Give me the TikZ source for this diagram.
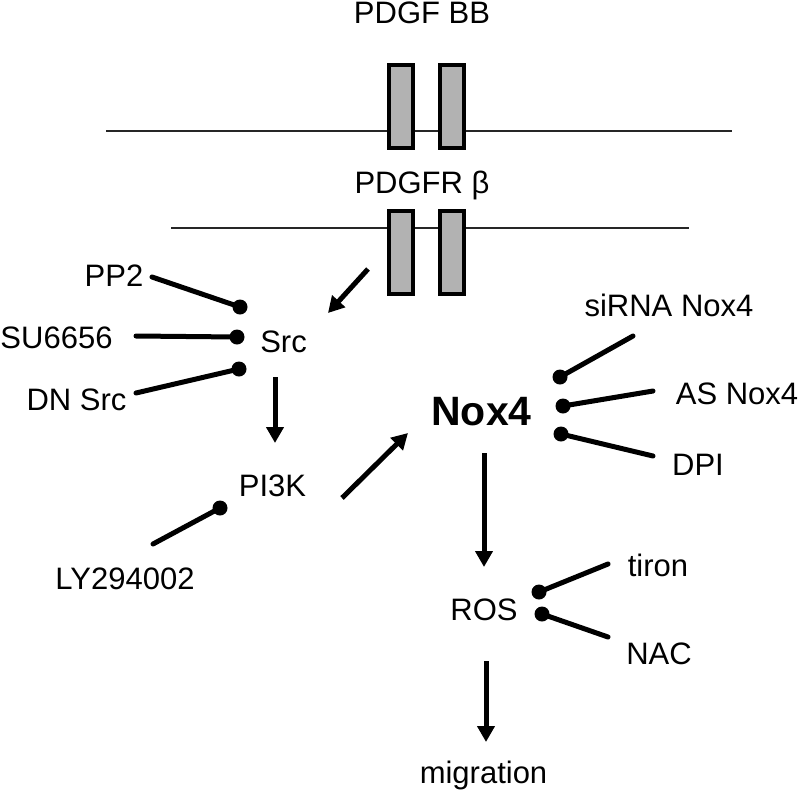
\documentclass[tikz,border=0pt]{standalone}
\usepackage{fontspec}
\setmainfont{Liberation Sans}
\usetikzlibrary{arrows.meta}
\tikzset{
  lbl/.style={anchor=base,inner sep=0pt,font=\fontsize{31}{37}\selectfont},
  boldlbl/.style={anchor=base,inner sep=0pt,font=\fontsize{41}{48}\selectfont\bfseries},
  membrane/.style={line width=2pt,black!85},
  tmbox/.style={draw=black,line width=4pt,fill=black!30},
  act/.style={line width=5pt,-{Triangle[width=17pt,length=16pt]}},
  inhib/.style={line width=5pt,line cap=round},
  dotend/.style={fill=black}
}
\begin{document}
\begin{tikzpicture}[x=1pt,y=-1pt]
\useasboundingbox (0,0) rectangle (800,798);
% membranes
\coordinate (m1a) at (106,131); \coordinate (m1b) at (732,131);
\coordinate (m2a) at (171,228); \coordinate (m2b) at (689,228);
\draw[membrane] (m1a) -- (m1b);
\draw[membrane] (m2a) -- (m2b);
% receptor boxes
\draw[tmbox] (389,65) rectangle (413,148);
\draw[tmbox] (440,65) rectangle (464,148);
\draw[tmbox] (389,211) rectangle (413,294);
\draw[tmbox] (440,211) rectangle (464,294);
% labels
\node[lbl] (pdgf) at (422,23) {PDGF BB};
\node[lbl] (pdgfr) at (422,193) {PDGFR β};
\node[lbl] (pp2) at (114,286) {PP2};
\node[lbl] (su) at (56.5,348) {SU6656};
\node[lbl] (dn) at (76.5,410) {DN Src};
\node[lbl] (src) at (283.5,352) {Src};
\node[lbl] (pi3k) at (272.5,496) {PI3K};
\node[lbl] (ly) at (125,589) {LY294002};
\node[boldlbl] (nox) at (481.5,425) {Nox4};
\node[lbl] (sirna) at (669,316) {siRNA Nox4};
\node[lbl] (as) at (737,404) {AS Nox4};
\node[lbl] (dpi) at (698,475) {DPI};
\node[lbl] (ros) at (484,620) {ROS};
\node[lbl] (tiron) at (658,576) {tiron};
\node[lbl] (nac) at (659,664) {NAC};
\node[lbl] (mig) at (483.5,783) {migration};
% activation arrows
\coordinate (a1s) at (368,269); \coordinate (a1e) at (328,313);
\coordinate (a2s) at (275,377); \coordinate (a2e) at (275,443);
\coordinate (a3s) at (342,498); \coordinate (a3e) at (408,433);
\coordinate (a4s) at (484,453); \coordinate (a4e) at (484,567);
\coordinate (a5s) at (486,661); \coordinate (a5e) at (486,742);
\draw[act] (a1s) -- (a1e);
\draw[act] (a2s) -- (a2e);
\draw[act] (a3s) -- (a3e);
\draw[act] (a4s) -- (a4e);
\draw[act] (a5s) -- (a5e);
% inhibitors
\foreach \n/\sx/\sy/\dx/\dy in {
  pp/152/277/240/307, su/136/336/237/337, dn/136/393/239/369,
  ly/153/544/220/508, si/633/336/560/377, as/653/391/563/406,
  dpi/653/456/561/434, ti/608/564/539/592, nac/608/637/542/614}{
  \coordinate (\n s) at (\sx,\sy);
  \coordinate (\n d) at (\dx,\dy);
  \draw[inhib] (\n s) -- (\n d);
  \fill[dotend] (\n d) circle (7.5);
}
\end{tikzpicture}
\end{document}
